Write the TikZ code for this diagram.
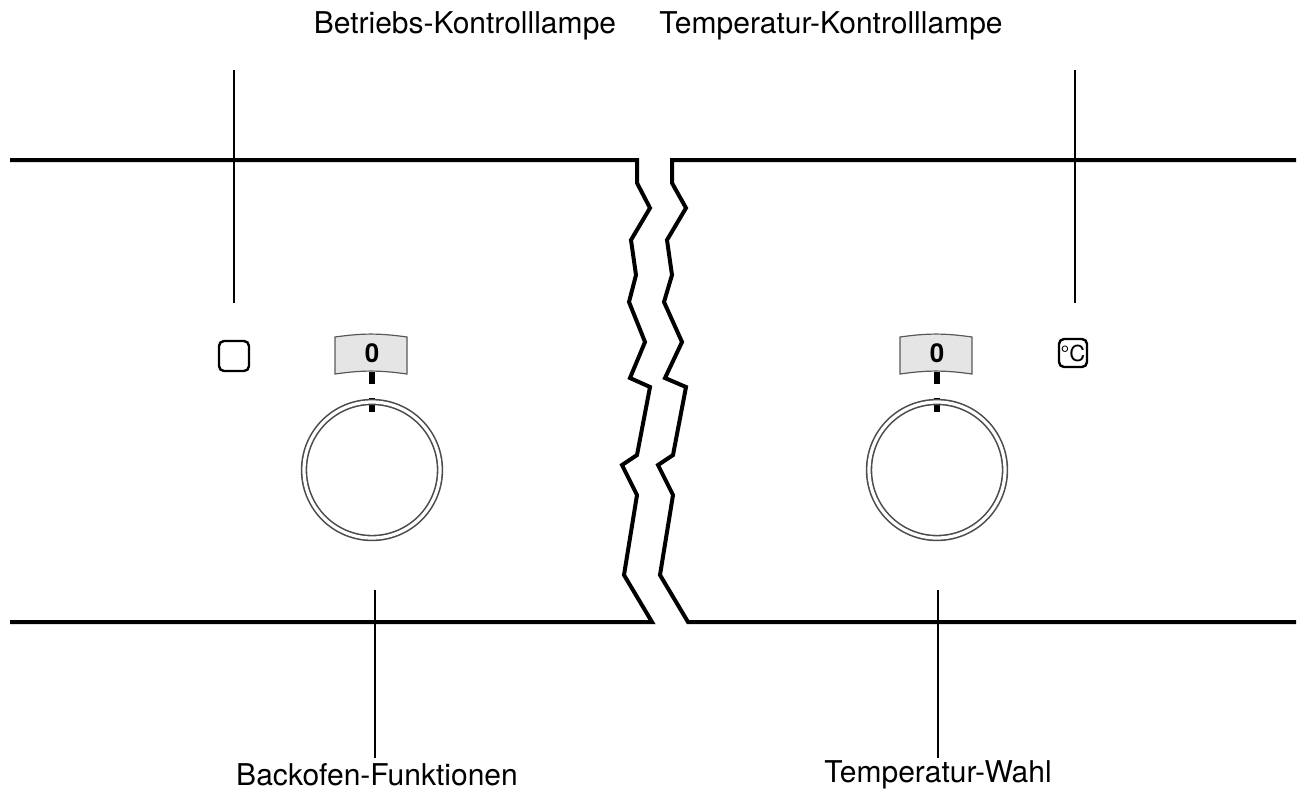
\documentclass[tikz,border=0pt]{standalone}
\usepackage{fontspec}
\setmainfont{TeX Gyre Heros}
\tikzset{
  panel/.style={line width=2pt, line join=miter},
  leader/.style={line width=0.6pt},
  lbl/.style={font=\fontsize{15}{17}\selectfont},
  ring/.style={draw=gray!60!black, double=white, double distance=1.6pt, line width=0.8pt}
}
\newcommand{\knob}[2]{%
  % label plate, ticks and ring of one knob
  \begin{scope}[shift={(#1,470)}]
    \filldraw[fill=gray!20, draw=gray!70!black, line width=0.6pt]
      (-37,-133) to[bend left=8] (35,-133) -- (35,-96) to[bend right=8] (-37,-96) -- cycle;
    \node[font=\bfseries\fontsize{13}{14}\selectfont] (#2lbl) at (0,-117) {0};
    \fill (-3,-98) rectangle (3,-86);
    \fill (-3,-72) rectangle (3,-58);
    \draw[ring] (0,0) circle (68);
  \end{scope}}
\begin{document}
\begin{tikzpicture}[x=0.5pt, y=-0.5pt]
  \useasboundingbox (0,0) rectangle (1300,798);

  % Panel edges with break
  \draw[panel] (10,160) -- (637,160) -- (637,183) -- (650,208) -- (631,240) -- (636,275)
    -- (629,302) -- (645,342) -- (630,378) -- (650,387) -- (637,455) -- (622,465)
    -- (637,495) -- (624,575) -- (652,622) -- (10,622);
  \draw[panel] (1296,160) -- (672,160) -- (672,183) -- (686,208) -- (667,240) -- (672,275)
    -- (664,302) -- (682,342) -- (665,378) -- (686,387) -- (673,455) -- (658,465)
    -- (673,495) -- (660,575) -- (688,622) -- (1296,622);

  % Knobs
  \knob{372}{left}
  \knob{937}{right}

  % Lamps
  \draw[line width=1.2pt, rounded corners=2.5pt] (219,341) rectangle (249,371);
  \node[draw, line width=1.2pt, rounded corners=2.5pt, minimum size=14pt, inner sep=0pt,
    font=\fontsize{11}{12}\selectfont] (templamp) at (1073,353) {°C};

  % Labels
  \node[lbl] (betrieb) at (465,26) {Betriebs-Kontrolllampe};
  \node[lbl] (temp) at (831,26) {Temperatur-Kontrolllampe};
  \node[lbl] (backofen) at (377,775) {Backofen-Funktionen};
  \node[lbl] (wahl) at (938,775) {Temperatur-Wahl};

  % Leader lines
  \draw[leader] (234,70) -- (234,303);
  \draw[leader] (1075,70) -- (1075,303);
  \draw[leader] (375,590) -- (375,758);
  \draw[leader] (938,590) -- (938,758);
\end{tikzpicture}
\end{document}
